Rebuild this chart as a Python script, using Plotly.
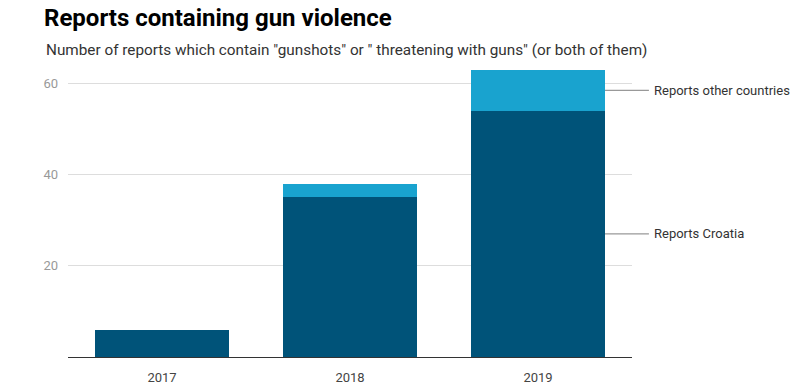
import plotly.graph_objects as go

years = ["2017", "2018", "2019"]
croatia = [6, 35, 54]
other = [0, 3, 9]
series_names = ["Reports Croatia", "Reports other countries"]
y_ticks = [20, 40, 60]

DARK = "#005379"
LIGHT = "#19a3cf"
BAR_FRAC = 0.713

fig = go.Figure()
fig.add_trace(go.Bar(x=years, y=croatia, name=series_names[0], marker_color=DARK,
                     marker_line_width=0))
fig.add_trace(go.Bar(x=years, y=other, name=series_names[1], marker_color=LIGHT,
                     marker_line_width=0))

# side labels for last category (converted to paper x so they are not clipped)
n = len(years)
last = n - 1
def to_paper(xd):
    return (xd + 0.5) / n

mid_cro = croatia[last] / 2
mid_oth = croatia[last] + other[last] / 2
x_edge = to_paper(last + BAR_FRAC / 2)
x_end = to_paper(last + 0.59)
for ym, label in [(mid_cro, series_names[0]), (mid_oth, series_names[1])]:
    fig.add_shape(type="line", xref="paper", yref="y", x0=x_edge, x1=x_end, y0=ym, y1=ym,
                  line=dict(color="#999999", width=1.3))
    fig.add_annotation(x=x_end, y=ym, xref="paper", yref="y", text=label, showarrow=False,
                       xanchor="left", yanchor="middle", xshift=3,
                       font=dict(family="Roboto", size=13, color="#333333"))

fig.update_layout(
    width=799, height=390,
    barmode="stack", bargap=1 - BAR_FRAC,
    showlegend=False,
    plot_bgcolor="white", paper_bgcolor="white",
    margin=dict(l=68, r=167, t=63, b=33, pad=0, autoexpand=False),
    font=dict(family="Roboto", color="#333333"),
    title=dict(text="<b>Reports containing gun violence</b>", xref="container", yref="container",
               x=44 / 799, y=1 - 18 / 390, xanchor="left", yanchor="middle",
               font=dict(family="Roboto", size=24, color="#000000")),
)
fig.add_annotation(text='Number of reports which contain "gunshots" or " threatening with guns" (or both of them)',
                   xref="paper", yref="paper", x=(44 - 68) / 564, y=1 + (63 - 50) / 294,
                   xanchor="left", yanchor="middle", showarrow=False,
                   font=dict(family="Roboto", size=15.3, color="#333333"))

fig.update_xaxes(type="category", showgrid=False, showline=True, linecolor="#333333",
                 linewidth=1.2, ticks="", automargin=False,
                 tickfont=dict(family="Roboto", size=13, color="#444444"),
                 ticklabelstandoff=8, range=[-0.5, 2.5])
fig.update_yaxes(range=[0, 64.5], tickvals=y_ticks, showgrid=True, gridcolor="#dddddd",
                 gridwidth=1, zeroline=False, showline=False, ticks="", automargin=False,
                 tickfont=dict(family="Roboto", size=13, color="#999999"),
                 ticklabelstandoff=9)

fig.write_html("out.html", config={"displayModeBar": False},
               post_script="document.body.style.margin='0';")
